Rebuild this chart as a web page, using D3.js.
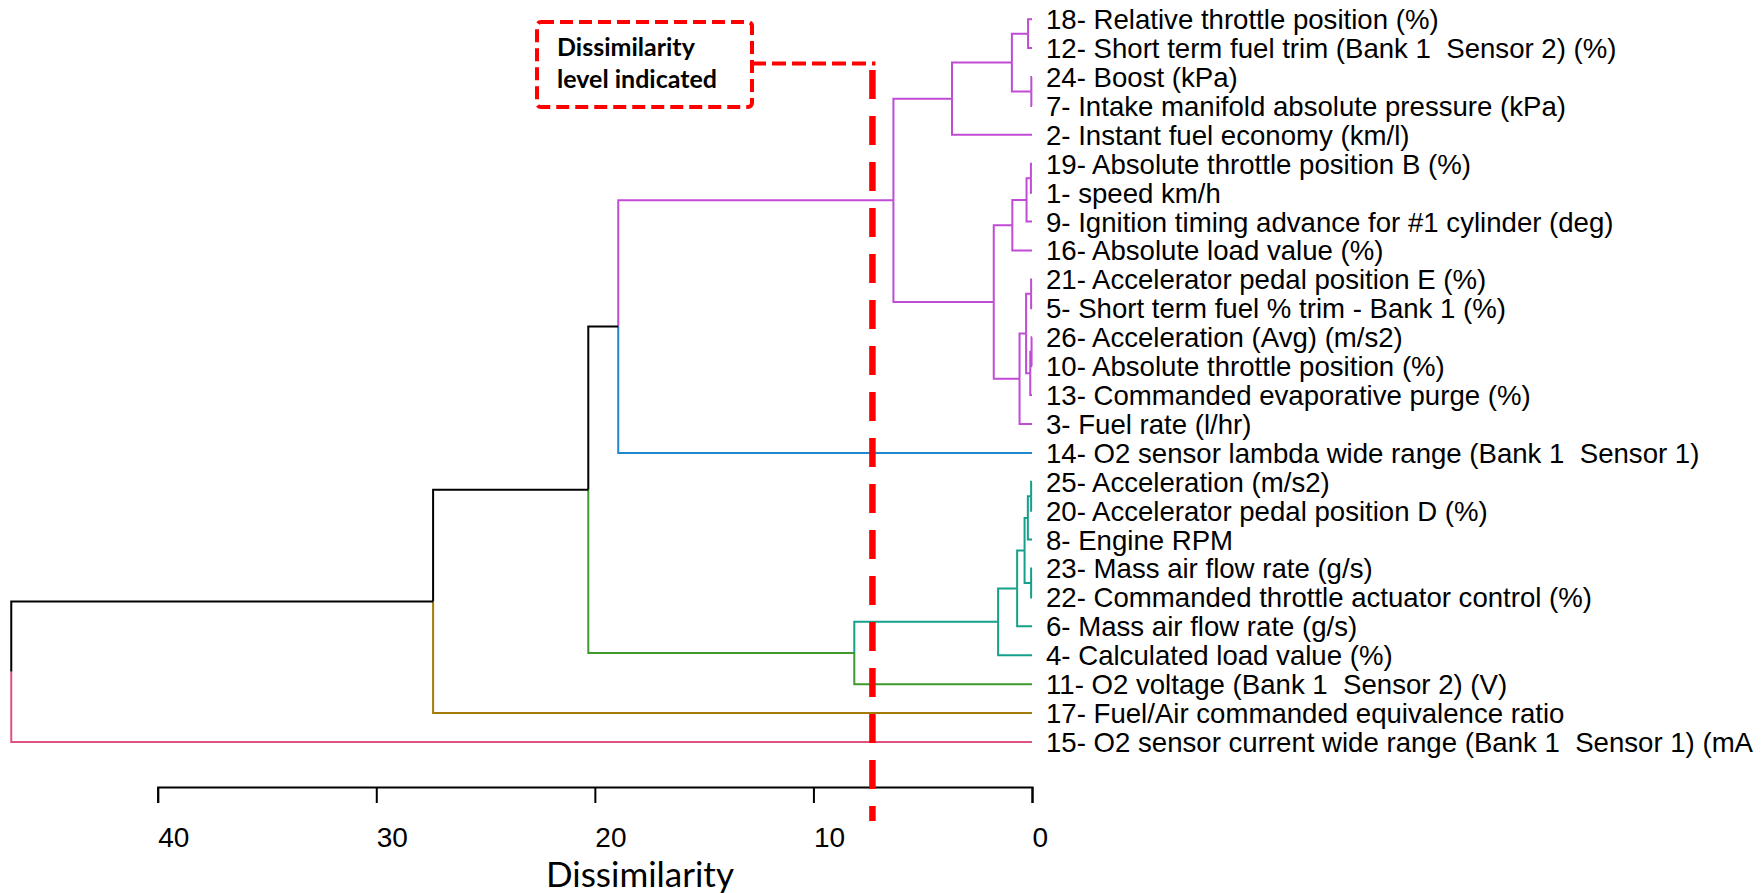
<!DOCTYPE html>
<html>
<head>
<meta charset="utf-8">
<script src="https://cdn.jsdelivr.net/npm/d3@7/dist/d3.min.js"></script>
<style>
  body { margin: 0; background: #fff; }
  .leaf-label { font-family: "Liberation Sans", Arial, sans-serif; font-size: 27.6px; fill: #000; white-space: pre; }
  .x-axis text { font-family: "Liberation Sans", Arial, sans-serif; font-size: 28px; fill: #000; }
  .axis-title { font-family: Lato, "Open Sans", sans-serif; font-size: 35px; fill: #000; }
  .note { font-family: Lato, "Open Sans", sans-serif; font-size: 25px; font-weight: bold; fill: #000; }
</style>
</head>
<body>
<div class="chart"></div>
<script>
var svgWidth = 1763;
var svgHeight = 893;

// leaves, top to bottom
var leafLabels = [
  "18- Relative throttle position (%)",
  "12- Short term fuel trim (Bank 1  Sensor 2) (%)",
  "24- Boost (kPa)",
  "7- Intake manifold absolute pressure (kPa)",
  "2- Instant fuel economy (km/l)",
  "19- Absolute throttle position B (%)",
  "1- speed km/h",
  "9- Ignition timing advance for #1 cylinder (deg)",
  "16- Absolute load value (%)",
  "21- Accelerator pedal position E (%)",
  "5- Short term fuel % trim - Bank 1 (%)",
  "26- Acceleration (Avg) (m/s2)",
  "10- Absolute throttle position (%)",
  "13- Commanded evaporative purge (%)",
  "3- Fuel rate (l/hr)",
  "14- O2 sensor lambda wide range (Bank 1  Sensor 1)",
  "25- Acceleration (m/s2)",
  "20- Accelerator pedal position D (%)",
  "8- Engine RPM",
  "23- Mass air flow rate (g/s)",
  "22- Commanded throttle actuator control (%)",
  "6- Mass air flow rate (g/s)",
  "4- Calculated load value (%)",
  "11- O2 voltage (Bank 1  Sensor 2) (V)",
  "17- Fuel/Air commanded equivalence ratio",
  "15- O2 sensor current wide range (Bank 1  Sensor 1) (mA"
];
var leafGroup = ["A","A","A","A","A","A","A","A","A","A","A","A","A","A","A",
                 "B","C","C","C","C","C","C","C","D","E","F"];

// merges (hclust style): negative = leaf number, positive = earlier merge
var mergeLeft   = [-1, -3, 1, 3, -6, 5, 6, -10, -12, 9, 8, 11, 7, 4, 14, -17, 16, -20, 17, 19, 20, 21, 15, 23, 24];
var mergeRight  = [-2, -4, 2, -5, -7, -8, -9, -11, -13, -14, 10, -15, 12, 13, -16, -18, -19, -21, 18, -22, -23, -24, 22, -25, -26];
var mergeHeight = [0.18, 0.03, 0.92, 3.66, 0.05, 0.25, 0.9, 0.04, 0.02, 0.08, 0.27, 0.57, 1.75, 6.34, 18.93,
                   0.04, 0.19, 0.04, 0.34, 0.68, 1.55, 8.13, 20.3, 27.4, 46.7];
var mergeGroup  = ["A","A","A","A","A","A","A","A","A","A","A","A","A","A","none",
                   "C","C","C","C","C","C","D","none","none","none"];

var tickValues = [40, 30, 20, 10, 0];
var cutLevel = 7.3;

var groupColor = {
  A: "#c04bd5", B: "#2086cf", C: "#14a08b", D: "#3f9a2c",
  E: "#a57b08", F: "#dd5280", none: "#000000"
};

var svg = d3.select(".chart")
  .append("svg")
  .attr("width", svgWidth)
  .attr("height", svgHeight)
  .style("display", "block");

var xScale = d3.scaleLinear().domain([0, 40]).range([1032, 157.7]);
var yScale = d3.scaleLinear().domain([0, leafLabels.length - 1]).range([19.2, 742]);

// node positions
function leafNode(i) {
  return { x: xScale(0), y: yScale(i), group: leafGroup[i] };
}
var nodes = [];
mergeHeight.forEach(function(h, j) {
  nodes.push({ h: h, group: mergeGroup[j], kids: [mergeLeft[j], mergeRight[j]] });
});
function getNode(ref) {
  return ref < 0 ? leafNode(-ref - 1) : nodes[ref - 1];
}
nodes.forEach(function(n) {
  var a = getNode(n.kids[0]), b = getNode(n.kids[1]);
  n.x = xScale(n.h);
  n.y = (a.y + b.y) / 2;
});

// edges: vertical at parent, then horizontal to child
var edges = [];
nodes.forEach(function(n) {
  n.kids.forEach(function(k) {
    var c = getNode(k);
    edges.push({ x0: n.x, y0: n.y, x1: c.x, y1: c.y, color: groupColor[c.group] });
  });
});

var treeGroup = svg.append("g");
treeGroup.selectAll("path")
  .data(edges)
  .join("path")
  .attr("d", d => `M${d.x0},${d.y0}V${d.y1}H${d.x1}`)
  .attr("fill", "none")
  .attr("stroke", d => d.color)
  .attr("stroke-width", 2);

// leaf labels
svg.append("g").selectAll("text")
  .data(leafLabels)
  .join("text")
  .classed("leaf-label", true)
  .attr("xml:space", "preserve")
  .attr("x", xScale(0) + 14)
  .attr("y", (d, i) => yScale(i))
  .attr("dy", "0.36em")
  .text(d => d);

// x axis
var bottomAxis = d3.axisBottom(xScale)
  .tickValues(tickValues)
  .tickFormat(d3.format("d"))
  .tickSize(16)
  .tickSizeOuter(16);

var xAxis = svg.append("g")
  .classed("x-axis", true)
  .attr("transform", "translate(0,787)")
  .call(bottomAxis);
xAxis.select(".domain").attr("stroke", "#000").attr("stroke-width", 2);
xAxis.selectAll(".tick line").attr("stroke", "#000").attr("stroke-width", 2);
xAxis.selectAll(".tick text")
  .attr("text-anchor", "start")
  .attr("font-family", null)
  .attr("font-size", null)
  .attr("y", 40)
  .attr("dy", "0.71em");

svg.append("text")
  .classed("axis-title", true)
  .attr("x", 640)
  .attr("y", 887)
  .attr("text-anchor", "middle")
  .text("Dissimilarity");

// cut level annotation
var cutX = xScale(cutLevel);
svg.append("line")
  .attr("x1", cutX).attr("x2", cutX)
  .attr("y1", 70).attr("y2", 821)
  .attr("stroke", "#ff0000")
  .attr("stroke-width", 6.5)
  .attr("stroke-dasharray", "29,17");

svg.append("path")
  .attr("d", `M752,63.5H${cutX + 3}`)
  .attr("stroke", "#ff0000")
  .attr("stroke-width", 4)
  .attr("stroke-dasharray", "14,6");

svg.append("rect")
  .attr("x", 537).attr("y", 22)
  .attr("width", 215).attr("height", 85)
  .attr("rx", 4)
  .attr("fill", "#fff")
  .attr("stroke", "#ff0000")
  .attr("stroke-width", 4)
  .attr("stroke-dasharray", "13,6");

svg.append("text").classed("note", true)
  .attr("x", 557).attr("y", 56)
  .text("Dissimilarity");
svg.append("text").classed("note", true)
  .attr("x", 557).attr("y", 88)
  .text("level indicated");
</script>
</body>
</html>
